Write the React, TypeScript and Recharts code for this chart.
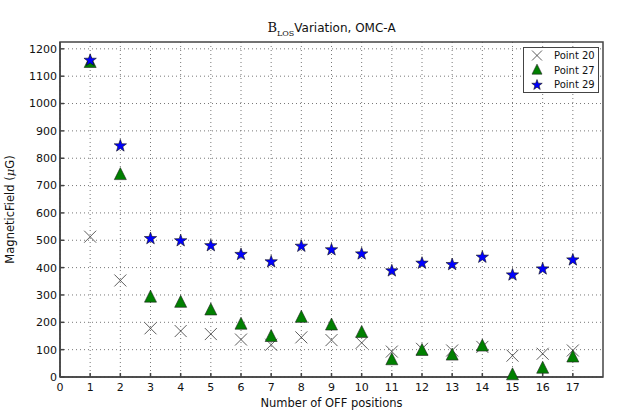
import { ScatterChart, Scatter, XAxis, YAxis, CartesianGrid, ReferenceArea } from "recharts";

// OFF position index
const positions = [1, 2, 3, 4, 5, 6, 7, 8, 9, 10, 11, 12, 13, 14, 15, 16, 17];

// B_LOS values (uG) per point
const point20 = [513, 353, 178, 168, 157, 137, 118, 145, 135, 125, 93, 103, 97, 110, 78, 85, 97];
const point27 = [1150, 740, 292, 273, 245, 193, 148, 218, 190, 163, 63, 97, 80, 113, 8, 32, 73];
const point29 = [1160, 847, 508, 500, 482, 450, 423, 480, 467, 452, 390, 418, 413, 440, 375, 397, 430];

const xTicks = [0, 1, 2, 3, 4, 5, 6, 7, 8, 9, 10, 11, 12, 13, 14, 15, 16, 17];
const yTicks = [0, 100, 200, 300, 400, 500, 600, 700, 800, 900, 1000, 1100, 1200];

const toPoints = (vals: number[]) => positions.map((x, i) => ({ x, y: vals[i] }));

const FONT = "'DejaVu Sans', sans-serif";
const FRAME = "#444";

function starPath(cx: number, cy: number, ro: number, ri: number) {
  let d = "";
  for (let i = 0; i < 10; i++) {
    const r = i % 2 === 0 ? ro : ri;
    const a = -Math.PI / 2 + (i * Math.PI) / 5;
    d += (i === 0 ? "M" : "L") + (cx + r * Math.cos(a)).toFixed(2) + "," + (cy + r * Math.sin(a)).toFixed(2);
  }
  return d + "Z";
}

const Cross = ({ cx, cy, s = 6 }: any) => (
  <g stroke="#333" strokeWidth={0.8}>
    <line x1={cx - s} y1={cy - s} x2={cx + s} y2={cy + s} />
    <line x1={cx - s} y1={cy + s} x2={cx + s} y2={cy - s} />
  </g>
);

const Tri = ({ cx, cy, s = 6 }: any) => (
  <path
    d={`M${cx},${cy - s * 1.17}L${cx + s},${cy + s * 0.83}L${cx - s},${cy + s * 0.83}Z`}
    fill="#008000"
    stroke="#222"
    strokeWidth={0.6}
  />
);

const Star = ({ cx, cy, s = 6.5 }: any) => (
  <path d={starPath(cx, cy + 0.5, s, s * 0.4)} fill="#0000ff" stroke="#111" strokeWidth={0.6} />
);

const legendItems = [
  { name: "Point 20", Shape: Cross, s: 5 },
  { name: "Point 27", Shape: Tri, s: 5 },
  { name: "Point 29", Shape: Star, s: 5.5 },
];

const YLabel = ({ viewBox }: any) => {
  const cx = 14;
  const cy = viewBox.y + viewBox.height / 2;
  return (
    <text x={cx} y={cy} transform={`rotate(-90 ${cx} ${cy})`} textAnchor="middle" fontSize={11.5} fontFamily={FONT} fill="#111">
      MagneticField (<tspan fontStyle="italic" fontFamily="'DejaVu Serif', serif">μ</tspan>G)
    </text>
  );
};

const XLabel = ({ viewBox }: any) => (
  <text x={viewBox.x + viewBox.width / 2} y={407} textAnchor="middle" fontSize={11.5} fontFamily={FONT} fill="#111">
    Number of OFF positions
  </text>
);

export default function App() {
  return (
    <div style={{ position: "absolute", left: 0, top: 0, width: 618, height: 420, background: "#fff" }}>
      <div
        style={{
          position: "absolute",
          left: 60,
          width: 543,
          top: 20,
          textAlign: "center",
          fontFamily: FONT,
          fontSize: 12,
          color: "#111",
        }}
      >
        <span style={{ fontFamily: "'DejaVu Serif', serif", fontSize: 13 }}>
          B<sub style={{ fontSize: 8 }}>LOS</sub>
        </span>
        Variation, OMC-A
      </div>
      <ScatterChart width={618} height={420} margin={{ top: 42, right: 15, bottom: 23, left: 10 }}>
        <CartesianGrid stroke="#777" strokeDasharray="1 3" horizontalValues={yTicks} verticalValues={xTicks} />
        <XAxis
          type="number"
          dataKey="x"
          domain={[0, 18]}
          ticks={xTicks}
          interval={0}
          height={20}
          stroke={FRAME}
          strokeWidth={1.5}
          tickSize={-4}
          tickMargin={10}
          tick={{ fontSize: 11, fontFamily: FONT, fill: "#111" }}
          label={<XLabel />}
        />
        <YAxis
          type="number"
          dataKey="y"
          domain={[0, 1225]}
          ticks={yTicks}
          interval={0}
          width={50}
          stroke={FRAME}
          strokeWidth={1.5}
          tickSize={-4}
          tickMargin={7}
          tick={{ fontSize: 11, fontFamily: FONT, fill: "#111" }}
          label={<YLabel />}
        />
        <ReferenceArea x1={0} x2={18} y1={0} y2={1225} fill="none" stroke={FRAME} strokeWidth={1.5} ifOverflow="visible" />
        <Scatter name="Point 20" data={toPoints(point20)} shape={<Cross />} isAnimationActive={false} />
        <Scatter name="Point 27" data={toPoints(point27)} shape={<Tri />} isAnimationActive={false} />
        <Scatter name="Point 29" data={toPoints(point29)} shape={<Star />} isAnimationActive={false} />
      </ScatterChart>
      <svg width={76} height={46} style={{ position: "absolute", left: 523, top: 47 }}>
        <rect x={0.5} y={0.5} width={75} height={45} fill="#fff" stroke={FRAME} strokeWidth={1} />
        {legendItems.map(({ name, Shape, s }, i) => (
          <g key={name}>
            <Shape cx={14} cy={8.5 + i * 14.5} s={s} />
            <text x={31} y={12 + i * 14.5} fontSize={10} fontFamily={FONT} fill="#111">
              {name}
            </text>
          </g>
        ))}
      </svg>
    </div>
  );
}
